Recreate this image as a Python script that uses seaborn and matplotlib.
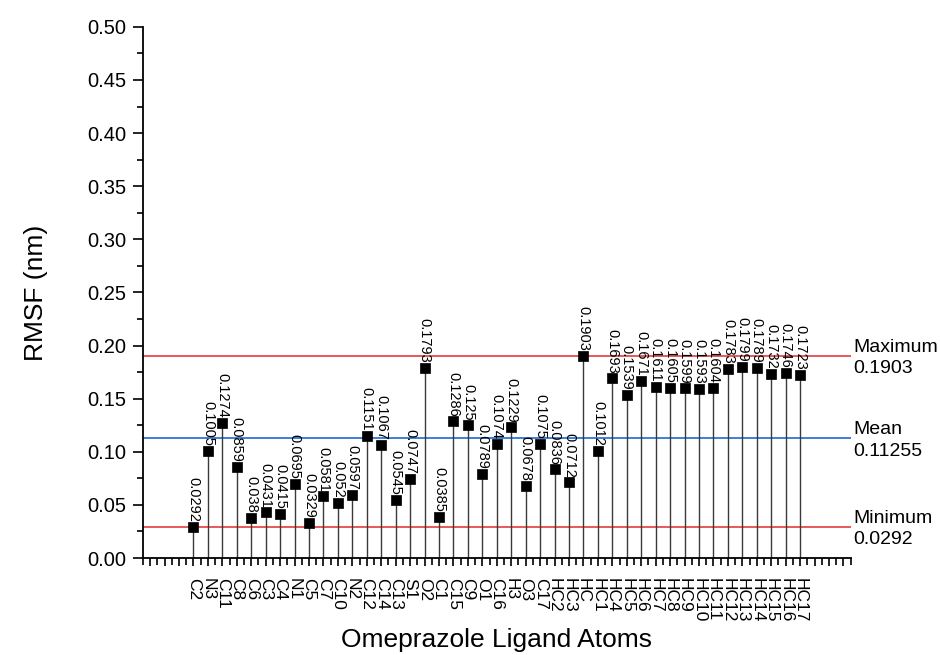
import matplotlib
matplotlib.use('Agg')
import matplotlib.pyplot as plt
import seaborn as sns
import numpy as np
import pandas as pd
from matplotlib.ticker import MultipleLocator, FixedLocator

# atom labels and RMSF values (nm)
atoms = ["C2", "N3", "C11", "C8", "C6", "C3", "C4", "N1", "C5", "C7", "C10", "N2",
         "C12", "C14", "C13", "S1", "O2", "C1", "C15", "C9", "O1", "C16", "H3", "O3",
         "C17", "HC2", "HC3", "HC", "HC1", "HC4", "HC5", "HC6", "HC7", "HC8", "HC9",
         "HC10", "HC11", "HC12", "HC13", "HC14", "HC15", "HC16", "HC17"]
rmsf = [0.0292, 0.1005, 0.1274, 0.0859, 0.038, 0.0431, 0.0415, 0.0695, 0.0329, 0.0581,
        0.052, 0.0597, 0.1151, 0.1067, 0.0545, 0.0747, 0.1793, 0.0385, 0.1286, 0.125,
        0.0789, 0.1074, 0.1229, 0.0678, 0.1075, 0.0836, 0.0712, 0.1903, 0.1012, 0.1693,
        0.1539, 0.1671, 0.1611, 0.1605, 0.1599, 0.1593, 0.1604, 0.1783, 0.1799, 0.1789,
        0.1732, 0.1746, 0.1723]

ref_names = ["Maximum", "Mean", "Minimum"]
ref_values = [0.1903, 0.11255, 0.0292]
ref_colors = ["#e84a4a", "#2f74d8", "#e84a4a"]

df = pd.DataFrame({"pos": np.arange(len(atoms)), "atom": atoms, "rmsf": rmsf})

sns.set_theme(style="ticks")
plt.rcParams['font.family'] = ['Liberation Sans', 'DejaVu Sans']
for k in ['text.color', 'axes.labelcolor', 'xtick.color', 'ytick.color']:
    plt.rcParams[k] = 'black'

fig = plt.figure(figsize=(9.4, 6.55), dpi=100)
ax = fig.add_axes([0.152, 0.148, 0.753, 0.811])

# reference lines with their labels on the right
for name, val, col in zip(ref_names, ref_values, ref_colors):
    ax.axhline(val, color=col, lw=1.3, zorder=1)
    ax.annotate(name, xy=(1.0, val), xycoords=('axes fraction', 'data'),
                xytext=(2, 3), textcoords='offset points',
                ha='left', va='baseline', fontsize=14, annotation_clip=False)
    ax.annotate(f"{val:g}", xy=(1.0, val), xycoords=('axes fraction', 'data'),
                xytext=(2, -3), textcoords='offset points',
                ha='left', va='top', fontsize=14, annotation_clip=False)

# stems + markers
ax.vlines(df["pos"], 0, df["rmsf"], color="#3a3a3a", lw=1.0, zorder=2)
sns.scatterplot(data=df, x="pos", y="rmsf", marker="s", s=60, color="black",
                edgecolor="black", linewidth=0.5, zorder=3, ax=ax)

for p, v in zip(df["pos"], df["rmsf"]):
    ax.annotate(f"{v:g}", xy=(p, v), xytext=(0, 3.5), textcoords='offset points',
                rotation=270, ha='center', va='bottom', fontsize=10.5)

ax.set_xlim(-3.5, 45.5)
ax.set_ylim(0, 0.5)

ax.yaxis.set_major_locator(MultipleLocator(0.05))
ax.yaxis.set_minor_locator(MultipleLocator(0.025))
ax.set_yticklabels([f"{t:.2f}" for t in ax.get_yticks()])

major_pos = np.arange(-3, 46)
ax.xaxis.set_major_locator(FixedLocator(major_pos))
ax.xaxis.set_minor_locator(FixedLocator(np.arange(-3.5, 46, 1.0)))
ax.set_xticklabels([atoms[i] if 0 <= i < len(atoms) else "" for i in major_pos],
                   rotation=270, fontsize=12.5)

ax.tick_params(axis='y', which='major', length=7, width=1.2, labelsize=14.5, pad=5)
ax.tick_params(axis='y', which='minor', length=4, width=1.2)
ax.tick_params(axis='x', which='major', length=6, width=1.2, pad=8)
ax.tick_params(axis='x', which='minor', length=5, width=1.2)

for s in ['top', 'right']:
    ax.spines[s].set_visible(False)
for s in ['left', 'bottom']:
    ax.spines[s].set_linewidth(1.3)
    ax.spines[s].set_color('black')

ax.set_xlabel("Omeprazole Ligand Atoms", fontsize=19, labelpad=4)
ax.set_ylabel("RMSF (nm)", fontsize=19, labelpad=28)

fig.savefig("out.png", dpi=100)
